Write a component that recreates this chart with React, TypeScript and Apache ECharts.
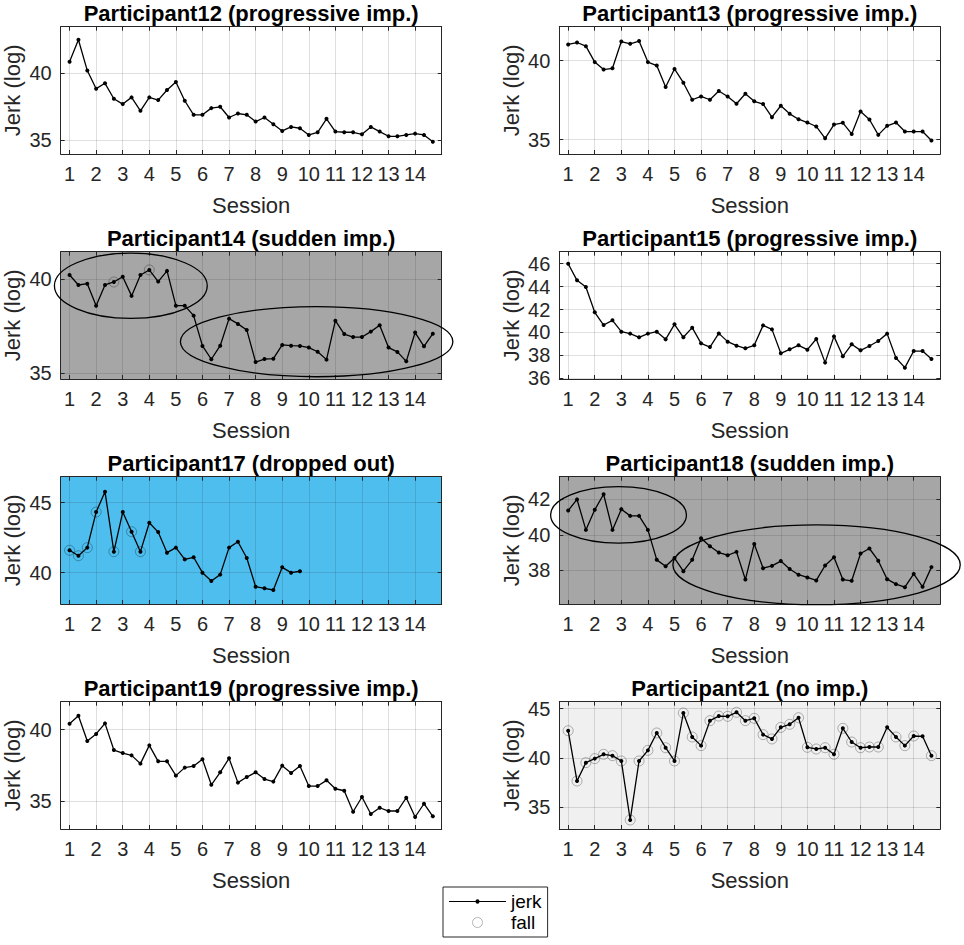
import React, { useEffect, useRef } from "react";
import * as echarts from "echarts";

// ---------- data ----------
const sessionTicks = [1, 2, 3, 4, 5, 6, 7, 8, 9, 10, 11, 12, 13, 14];
const samplesPerSession = 3;

const titles = [
  "Participant12 (progressive imp.)",
  "Participant13 (progressive imp.)",
  "Participant14 (sudden imp.)",
  "Participant15 (progressive imp.)",
  "Participant17 (dropped out)",
  "Participant18 (sudden imp.)",
  "Participant19 (progressive imp.)",
  "Participant21 (no imp.)",
];

const p12Jerk = [40.85, 42.5, 40.2, 38.85, 39.25, 38.1, 37.7, 38.2, 37.2, 38.2, 38.0, 38.75, 39.35, 37.95, 36.9, 36.9, 37.4, 37.5, 36.7, 37.0, 36.9, 36.4, 36.7, 36.2, 35.7, 36.0, 35.9, 35.4, 35.6, 36.6, 35.65, 35.6, 35.6, 35.45, 36.0, 35.65, 35.3, 35.3, 35.4, 35.5, 35.4, 34.9];
const p13Jerk = [41.02, 41.14, 40.91, 39.9, 39.43, 39.51, 41.2, 41.06, 41.23, 39.9, 39.68, 38.33, 39.47, 38.6, 37.52, 37.73, 37.52, 38.07, 37.73, 37.27, 37.9, 37.42, 37.25, 36.42, 37.14, 36.63, 36.29, 36.08, 35.83, 35.08, 35.95, 36.06, 35.36, 36.78, 36.27, 35.3, 35.87, 36.08, 35.51, 35.51, 35.51, 34.94];
const p14Jerk = [40.21, 39.68, 39.75, 38.58, 39.68, 39.84, 40.12, 39.1, 40.21, 40.48, 39.86, 40.43, 38.58, 38.58, 38.05, 36.44, 35.73, 36.45, 37.89, 37.61, 37.29, 35.58, 35.74, 35.76, 36.49, 36.45, 36.44, 36.35, 36.13, 35.71, 37.78, 37.07, 36.91, 36.91, 37.2, 37.54, 36.35, 36.12, 35.62, 37.15, 36.42, 37.09];
const p15Jerk = [46.0, 44.55, 43.97, 41.76, 40.65, 41.06, 40.07, 39.9, 39.58, 39.9, 40.07, 39.4, 40.71, 39.58, 40.42, 39.05, 38.73, 39.92, 39.2, 38.85, 38.62, 38.88, 40.62, 40.27, 38.18, 38.53, 38.88, 38.5, 39.43, 37.37, 39.66, 37.92, 38.97, 38.44, 38.82, 39.26, 39.9, 37.77, 36.93, 38.38, 38.38, 37.69];
const p17Jerk = [41.6, 41.21, 41.79, 44.33, 45.79, 41.5, 44.33, 42.93, 41.5, 43.57, 42.9, 41.43, 41.79, 40.95, 41.1, 40.0, 39.4, 39.86, 41.79, 42.21, 41.05, 39.0, 38.88, 38.76, 40.38, 40.0, 40.1];
const p18Jerk = [41.37, 42.0, 40.28, 41.41, 42.29, 40.28, 41.45, 41.07, 41.07, 40.28, 38.59, 38.23, 38.69, 37.95, 38.59, 39.81, 39.36, 39.0, 38.85, 39.04, 37.48, 39.49, 38.12, 38.25, 38.52, 38.07, 37.75, 37.6, 37.43, 38.27, 38.74, 37.48, 37.41, 38.95, 39.23, 38.54, 37.5, 37.22, 37.05, 37.8, 37.07, 38.18];
const p19Jerk = [40.42, 40.98, 39.21, 39.7, 40.44, 38.57, 38.36, 38.2, 37.62, 38.9, 37.78, 37.78, 36.78, 37.34, 37.45, 37.92, 36.14, 37.01, 37.99, 36.29, 36.68, 37.01, 36.54, 36.36, 37.48, 36.96, 37.45, 36.05, 36.05, 36.45, 35.86, 35.72, 34.25, 35.28, 34.09, 34.53, 34.3, 34.3, 35.23, 33.88, 34.81, 33.93];
const p21Jerk = [42.76, 37.64, 39.51, 39.92, 40.36, 40.22, 39.68, 33.68, 39.68, 40.76, 42.53, 41.03, 39.68, 44.56, 42.12, 41.24, 43.78, 44.25, 44.22, 44.63, 43.78, 44.02, 42.36, 41.92, 43.1, 43.41, 44.08, 41.07, 40.9, 41.03, 40.36, 43.0, 41.61, 41.03, 41.1, 41.1, 43.1, 42.12, 41.24, 42.22, 42.19, 40.22];

// sample numbers (1-based) at which a fall occurred
const p14Falls = [6, 10];
const p17Falls = [1, 2, 3, 4, 6, 8, 9];
const p21Falls = [1, 2, 3, 4, 5, 6, 7, 8, 9, 10, 11, 12, 13, 14, 15, 16, 17, 18, 19, 20, 21, 22, 23, 24, 25, 26, 27, 28, 29, 30, 31, 32, 33, 34, 35, 36, 38, 39, 40, 42];

// y-axis ranges and tick values
const p12YRange = [33.98, 43.47];
const p13YRange = [34.09, 42.14];
const p14YRange = [34.68, 41.45];
const p15YRange = [35.94, 47.05];
const p17YRange = [37.76, 46.86];
const p18YRange = [36.1, 43.28];
const p19YRange = [33.04, 41.96];
const p21YRange = [32.76, 45.71];

const p12YTicks = [35, 40];
const p13YTicks = [35, 40];
const p14YTicks = [35, 40];
const p15YTicks = [36, 38, 40, 42, 44, 46];
const p17YTicks = [40, 45];
const p18YTicks = [38, 40, 42];
const p19YTicks = [35, 40];
const p21YTicks = [35, 40, 45];

// ellipse annotations: [centre session, centre jerk, half-width (sessions), half-height (jerk)]
const p14Ellipses = [
  [3.305, 39.635, 2.875, 1.735],
  [10.295, 36.665, 5.125, 1.865],
];
const p18Ellipses = [
  [2.895, 41.125, 2.555, 1.595],
  [10.345, 38.31, 5.405, 2.25],
];

// ---------- styling ----------
const FONT = '"Liberation Sans", Arial, Helvetica, sans-serif';
const AX = "#262626";
const GRID_LINE = "rgba(38,38,38,0.15)";
const FALL_RING = "rgba(0,0,0,0.36)";
const BG_WHITE = "#ffffff";
const BG_GRAY = "#a6a6a6";
const BG_BLUE = "#4dbeee";
const BG_LIGHT = "#f0f0f0";

// legend glyph for the jerk line: thin line with a small dot in the middle
const JERK_ICON =
  "path://M0,4.5L26.6,4.5L27,3.3L28.5,2.8L30,3.3L30.4,4.5L57,4.5L57,5.5L30.4,5.5L30,6.7L28.5,7.2L27,6.7L26.6,5.5L0,5.5Z";

const panels = [
  { jerk: p12Jerk, falls: [], yr: p12YRange, yt: p12YTicks, bg: BG_WHITE, ell: [] },
  { jerk: p13Jerk, falls: [], yr: p13YRange, yt: p13YTicks, bg: BG_WHITE, ell: [] },
  { jerk: p14Jerk, falls: p14Falls, yr: p14YRange, yt: p14YTicks, bg: BG_GRAY, ell: p14Ellipses },
  { jerk: p15Jerk, falls: [], yr: p15YRange, yt: p15YTicks, bg: BG_WHITE, ell: [] },
  { jerk: p17Jerk, falls: p17Falls, yr: p17YRange, yt: p17YTicks, bg: BG_BLUE, ell: [] },
  { jerk: p18Jerk, falls: [], yr: p18YRange, yt: p18YTicks, bg: BG_GRAY, ell: p18Ellipses },
  { jerk: p19Jerk, falls: [], yr: p19YRange, yt: p19YTicks, bg: BG_WHITE, ell: [] },
  { jerk: p21Jerk, falls: p21Falls, yr: p21YRange, yt: p21YTicks, bg: BG_LIGHT, ell: [] },
];

const colLeft = [60.7, 559.3];
const plotW = 381;
const rowTop = [26.7, 251.7, 476.7, 701.7];
const plotH = 127.3;

const sessionOf = (sampleIdx0: number) => 1 + sampleIdx0 / samplesPerSession;
const X_MIN = 1 - 1 / samplesPerSession;
const X_MAX = 15;

function buildOption() {
  const grid: any[] = [];
  const xAxis: any[] = [];
  const yAxis: any[] = [];
  const series: any[] = [];
  const title: any[] = [];

  panels.forEach((p, k) => {
    const col = k % 2;
    const row = Math.floor(k / 2);
    const left = colLeft[col];
    const top = rowTop[row];
    grid.push({
      left,
      top,
      width: plotW,
      height: plotH,
      show: true,
      backgroundColor: p.bg,
      borderWidth: 0,
    });
    title.push({
      text: titles[k],
      left: left + plotW / 2,
      top: top - 24.5,
      textAlign: "center",
      padding: 0,
      textStyle: { fontSize: 22, fontWeight: "bold", color: "#000", fontFamily: FONT },
    });
    const axisLine = { show: true, onZero: false, lineStyle: { color: AX, width: 1 } };
    xAxis.push({
      type: "value",
      gridIndex: k,
      position: "bottom",
      min: X_MIN,
      max: X_MAX,
      axisLine,
      axisTick: { show: true, inside: true, length: 4, customValues: sessionTicks, lineStyle: { color: AX } },
      axisLabel: { customValues: sessionTicks, fontSize: 20, color: AX, margin: 10, fontFamily: FONT },
      splitLine: { show: true, lineStyle: { color: GRID_LINE, width: 1 } },
      name: "Session",
      nameLocation: "middle",
      nameGap: 40,
      nameTextStyle: { fontSize: 22, color: AX, fontFamily: FONT },
    });
    xAxis.push({
      type: "value",
      gridIndex: k,
      position: "top",
      min: X_MIN,
      max: X_MAX,
      axisLine,
      axisTick: { show: true, inside: true, length: 4, customValues: sessionTicks, lineStyle: { color: AX } },
      axisLabel: { show: false },
      splitLine: { show: false },
    });
    yAxis.push({
      type: "value",
      gridIndex: k,
      position: "left",
      min: p.yr[0],
      max: p.yr[1],
      axisLine,
      axisTick: { show: true, inside: true, length: 4, customValues: p.yt, lineStyle: { color: AX } },
      axisLabel: { customValues: p.yt, fontSize: 20, color: AX, margin: 9, fontFamily: FONT },
      splitLine: { show: true, lineStyle: { color: GRID_LINE, width: 1 } },
      name: "Jerk (log)",
      nameLocation: "middle",
      nameGap: 37,
      nameTextStyle: { fontSize: 22, color: AX, fontFamily: FONT },
    });
    yAxis.push({
      type: "value",
      gridIndex: k,
      position: "right",
      min: p.yr[0],
      max: p.yr[1],
      axisLine,
      axisTick: { show: true, inside: true, length: 4, customValues: p.yt, lineStyle: { color: AX } },
      axisLabel: { show: false },
      splitLine: { show: false },
    });

    const pts = p.jerk.map((v, i) => [sessionOf(i), v]);
    if (p.falls.length) {
      series.push({
        type: "scatter",
        name: "fall",
        xAxisIndex: 2 * k,
        yAxisIndex: 2 * k,
        symbol: "circle",
        symbolSize: 10,
        itemStyle: { color: "rgba(0,0,0,0)", borderColor: FALL_RING, borderWidth: 1 },
        data: p.falls.map((n) => [sessionOf(n - 1), p.jerk[n - 1]]),
        z: 2,
        silent: true,
      });
    }
    series.push({
      type: "line",
      name: "jerk",
      xAxisIndex: 2 * k,
      yAxisIndex: 2 * k,
      data: pts,
      symbol: "circle",
      symbolSize: 4,
      showSymbol: true,
      lineStyle: { color: "#000", width: 1.3 },
      itemStyle: { color: "#000" },
      z: 3,
      silent: true,
    });
    if (p.ell.length) {
      series.push({
        type: "custom",
        name: "cluster",
        xAxisIndex: 2 * k,
        yAxisIndex: 2 * k,
        clip: false,
        silent: true,
        z: 4,
        data: p.ell,
        renderItem: (params: any, api: any) => {
          const cx = api.value(0);
          const cy = api.value(1);
          const c = api.coord([cx, cy]);
          const e = api.coord([cx + api.value(2), cy + api.value(3)]);
          return {
            type: "ellipse",
            shape: { cx: c[0], cy: c[1], rx: Math.abs(e[0] - c[0]), ry: Math.abs(e[1] - c[1]) },
            style: { fill: "none", stroke: "#000", lineWidth: 1.3 },
          };
        },
      });
    }
  });

  return {
    animation: false,
    backgroundColor: "#fff",
    title,
    grid,
    xAxis,
    yAxis,
    series,
    legend: {
      data: [
        { name: "jerk", icon: JERK_ICON, itemStyle: { color: "#000", borderWidth: 0 } },
        {
          name: "fall",
          icon: "circle",
          itemStyle: { color: "rgba(0,0,0,0)", borderColor: "#a3a3a3", borderWidth: 1 },
        },
      ],
      orient: "vertical",
      left: 443,
      top: 887,
      itemWidth: 57,
      itemHeight: 10,
      itemGap: 2,
      padding: [5, 6, 5, 6],
      borderColor: AX,
      borderWidth: 1,
      backgroundColor: "#fff",
      selectedMode: false,
      textStyle: { fontSize: 19, color: "#000", fontFamily: FONT },
    },
  };
}

export default function App() {
  const ref = useRef<HTMLDivElement>(null);
  useEffect(() => {
    if (!ref.current) return;
    const chart = echarts.init(ref.current, undefined, { renderer: "svg" });
    chart.setOption(buildOption() as any);
    return () => chart.dispose();
  }, []);
  return (
    <div
      ref={ref}
      style={{ position: "absolute", left: 0, top: 0, width: 964, height: 945 }}
    />
  );
}
